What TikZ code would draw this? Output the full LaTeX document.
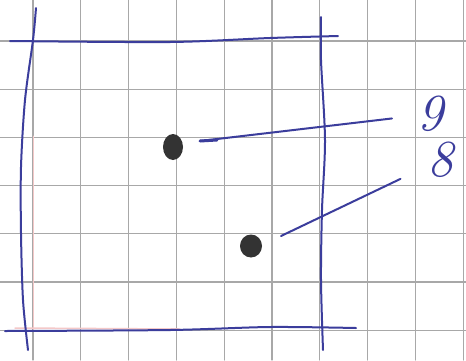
\documentclass[tikz,border=0pt]{standalone}
\usetikzlibrary{shapes.geometric}
\begin{document}
\begin{tikzpicture}[x=1pt,y=-1pt,line cap=round,line join=round]
  \definecolor{gr}{HTML}{A8A8A8}
  \definecolor{pen}{HTML}{3B3D9C}
  \definecolor{ink}{HTML}{333333}
  \definecolor{pk}{HTML}{F4C8C8}
  \tikzset{
    gridline/.style={gr,line width=1.1pt},
    penline/.style={pen,line width=2pt},
    inkdot/.style={ellipse,fill=ink,inner sep=0pt},
    digit/.style={pen,font=\fontsize{52}{52}\selectfont\itshape,inner sep=1pt}
  }
  \useasboundingbox (0,0) rectangle (466,360);
  \fill[white] (0,0) rectangle (466,360);
  % grid paper
  \foreach \i in {0,...,9} \draw[gridline] (33+47.8*\i,0) -- (33+47.8*\i,360);
  \foreach \j in {0,...,6} \draw[gridline] (0,41+48.2*\j) -- (466,41+48.2*\j);
  % faint margin
  \draw[pk,line width=1pt] (33,136) -- (33,330);
  \draw[pk,line width=1.5pt] (15,328) -- (180,329);
  % frame
  \draw[penline] plot[smooth] coordinates {(10,41) (170,42) (270,38) (338,36)};
  \draw[penline] plot[smooth] coordinates {(5,331) (170,330) (270,327) (356,328)};
  \draw[penline] plot[smooth] coordinates {(36,8) (33,40) (25,100) (21,167) (21,233) (23,300) (28,350)};
  \draw[penline] plot[smooth] coordinates {(321,17) (321,60) (325,140) (322,210) (321,280) (323,350)};
  % dots
  \node[inkdot,minimum width=20pt,minimum height=26pt] (dotA) at (173,147) {};
  \node[inkdot,minimum width=22pt,minimum height=23pt] (dotB) at (251,246) {};
  % labels
  \node[digit] (nine) at (430,114) {9};
  \node[digit] (eight) at (440,160) {8};
  % leaders
  \coordinate (tailA) at (200,141);
  \coordinate (tailB) at (281,236);
  \draw[penline,line width=3pt] (tailA) -- ++(17,-1);
  \draw[penline,shorten >=24pt] (tailA) -- (nine);
  \draw[penline,shorten >=28pt] (tailB) -- (eight);
\end{tikzpicture}
\end{document}
